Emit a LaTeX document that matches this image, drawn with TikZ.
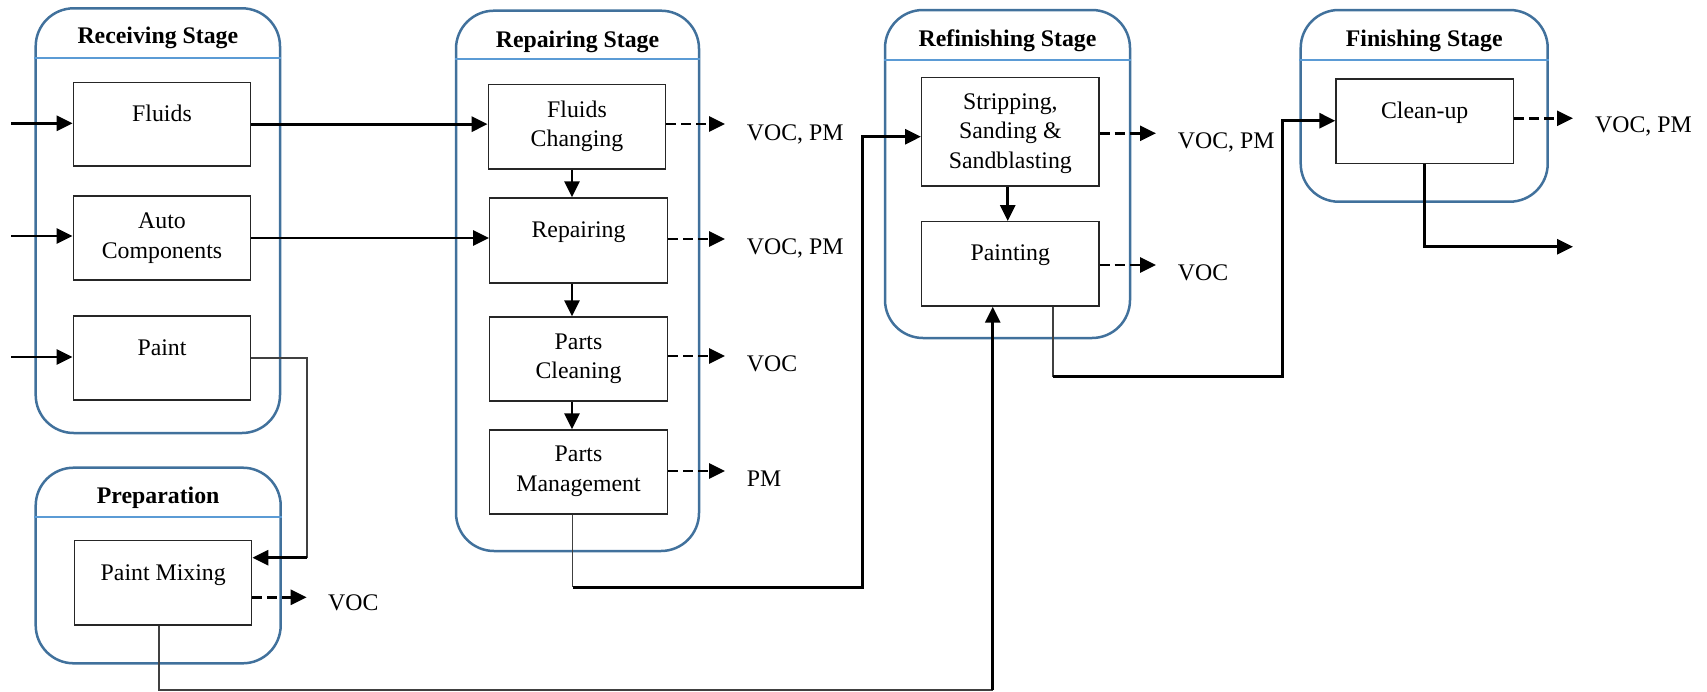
\documentclass[tikz,border=0pt]{standalone}
\usepackage{fontspec}
\setmainfont{Liberation Serif}
\usetikzlibrary{arrows.meta}
\definecolor{stageblue}{HTML}{41719C}
\definecolor{hdrblue}{HTML}{5B9BD5}
\definecolor{thingray}{HTML}{404040}
\begin{document}
\begin{tikzpicture}[x=1pt,y=-1pt,
  stage/.style={draw=stageblue, line width=2.5pt, rounded corners=38pt, rectangle, inner sep=0pt},
  hdrline/.style={draw=hdrblue, line width=2.2pt},
  hdrtext/.style={font=\fontsize{23.8}{29.5}\selectfont\bfseries, anchor=base, inner sep=0pt},
  proc/.style={draw=black!85, line width=1.4pt, rectangle, inner sep=0pt},
  txt/.style={font=\fontsize{23.8}{29.7}\selectfont, anchor=base, inner sep=0pt, align=center},
  lbl/.style={font=\fontsize{23.8}{29.7}\selectfont, anchor=base west, inner sep=0pt},
  thinline/.style={draw=thingray, line width=1.5pt},
  flow/.style={draw=black, line width=2.9pt, -{Triangle[length=16pt,width=15pt]}},
  emis/.style={draw=black, line width=2.7pt, dash pattern=on 10pt off 5pt, -{Triangle[length=16pt,width=15pt]}},
]
\useasboundingbox (0,0) rectangle (1707,691);

% stages
\node[stage, minimum width=244.3pt, minimum height=424.7pt] (recv) at (157.85,220.65) {};
\node[stage, minimum width=245pt, minimum height=195.6pt] (prep) at (158.2,565.5) {};
\node[stage, minimum width=243pt, minimum height=540.3pt] (rpr) at (577.5,280.85) {};
\node[stage, minimum width=245pt, minimum height=328pt] (refn) at (1007.5,174) {};
\node[stage, minimum width=247pt, minimum height=191.7pt] (fin) at (1424.2,105.85) {};

\draw[hdrline] (recv.west |- 0,58.3) -- (recv.east |- 0,58.3);
\draw[hdrline] (prep.west |- 0,516.7) -- (prep.east |- 0,516.7);
\draw[hdrline] (rpr.west |- 0,59) -- (rpr.east |- 0,59);
\draw[hdrline] (refn.west |- 0,60) -- (refn.east |- 0,60);
\draw[hdrline] (fin.west |- 0,60) -- (fin.east |- 0,60);

\node[hdrtext] (recv-h) at (157.85,43.3) {Receiving Stage};
\node[hdrtext] (prep-h) at (158.2,503.3) {Preparation};
\node[hdrtext] (rpr-h) at (577.5,47) {Repairing Stage};
\node[hdrtext] (refn-h) at (1007.5,46.7) {Refinishing Stage};
\node[hdrtext] (fin-h) at (1424.2,46.7) {Finishing Stage};

% process boxes
\node[proc, minimum width=177.4pt, minimum height=83.7pt] (fl) at (162,124.15) {};
\node[proc, minimum width=177.4pt, minimum height=84pt] (ac) at (162,238) {};
\node[proc, minimum width=177.4pt, minimum height=84pt] (pa) at (162,358) {};
\node[proc, minimum width=177pt, minimum height=84.3pt] (pmx) at (163.2,582.85) {};
\node[proc, minimum width=177.4pt, minimum height=84.4pt] (fc) at (577,126.8) {};
\node[proc, minimum width=177.6pt, minimum height=85pt] (rep) at (578.5,240.5) {};
\node[proc, minimum width=177.6pt, minimum height=84pt] (pc) at (578.5,359) {};
\node[proc, minimum width=177.6pt, minimum height=84pt] (pmg) at (578.5,472) {};
\node[proc, minimum width=177.3pt, minimum height=108.7pt] (str) at (1010.35,131.65) {};
\node[proc, minimum width=177.3pt, minimum height=84.3pt] (pnt) at (1010.35,263.85) {};
\node[proc, minimum width=177.3pt, minimum height=84.3pt] (cu) at (1424.65,121.15) {};

% texts (anchor base = baseline of the last line)
\node[txt] (fl-t) at (162,121.7) {Fluids};
\node[txt] (ac-t) at (162,258) {Auto\\Components};
\node[txt] (pa-t) at (162,355) {Paint};
\node[txt] (pmx-t) at (163.2,580) {Paint Mixing};
\node[txt] (fc-t) at (577,146.7) {Fluids\\Changing};
\node[txt] (rep-t) at (578.5,237.5) {Repairing};
\node[txt] (pc-t) at (578.5,378.7) {Parts\\Cleaning};
\node[txt] (pmg-t) at (578.5,491.5) {Parts\\Management};
\node[txt] (str-t) at (1010.35,168.4) {Stripping,\\Sanding \&\\Sandblasting};
\node[txt] (pnt-t) at (1010.35,260.7) {Painting};
\node[txt] (cu-t) at (1424.65,118.3) {Clean-up};

% inputs
\coordinate (in1) at (11,123.3);
\coordinate (in2) at (11,236);
\coordinate (in3) at (11,357);
\draw[flow] (in1) -- (in1 -| fl.west);
\draw[flow] (in2) -- (in2 -| ac.west);
\draw[flow] (in3) -- (in3 -| pa.west);

% receiving -> repairing
\draw[flow] (fl.east) -- (fl.east -| fc.west);
\draw[flow] (ac.east) -- (ac.east -| rep.west);

% repairing chain
\coordinate (rx) at (572,0);
\draw[flow] (rx |- fc.south) -- (rx |- rep.north);
\draw[flow] (rx |- rep.south) -- (rx |- pc.north);
\draw[flow] (rx |- pc.south) -- (rx |- pmg.north);

% refinishing chain
\coordinate (fx) at (1007.7,0);
\draw[flow] (fx |- str.south) -- (fx |- pnt.north);

% paint -> paint mixing
\coordinate (k1) at (307,358);
\coordinate (k2) at (307,557.7);
\draw[thinline] (pa.east) -- (k1) -- (k2);
\draw[flow] (k2) -- (k2 -| pmx.east);

% paint mixing -> painting
\coordinate (k3) at (159,689.8);
\coordinate (k4) at (992.7,689.8);
\draw[thinline] (k3 |- pmx.south) -- (k3) -- (k4);
\draw[flow] (k4) -- (k4 |- pnt.south);

% parts management -> stripping
\coordinate (k5) at (572.7,587.3);
\coordinate (k6) at (862.7,587.3);
\coordinate (k7) at (862.7,136.7);
\draw[thinline] (k5 |- pmg.south) -- (k5);
\draw[flow] (k5) -- (k6) -- (k7) -- (k7 -| str.west);

% painting -> clean-up
\coordinate (k8) at (1053,376.7);
\coordinate (k9) at (1282.3,376.7);
\coordinate (k10) at (1282.3,120.7);
\draw[thinline] (k8 |- pnt.south) -- (k8);
\draw[flow] (k8) -- (k9) -- (k10) -- (k10 -| cu.west);

% clean-up -> out
\coordinate (k11) at (1424.3,246.7);
\coordinate (out) at (1573,246.7);
\draw[flow] (k11 |- cu.south) -- (k11) -- (out);

% emissions
\coordinate (e0) at (306.7,597.3);
\coordinate (e1) at (725,124);
\coordinate (e2) at (725,239);
\coordinate (e3) at (725,356);
\coordinate (e4) at (725,471);
\coordinate (e5) at (1156,133.3);
\coordinate (e6) at (1156,265);
\coordinate (e7) at (1573,118.3);
\draw[emis] (e0 -| pmx.east) -- (e0);
\draw[emis] (e1 -| fc.east) -- (e1);
\draw[emis] (e2 -| rep.east) -- (e2);
\draw[emis] (e3 -| pc.east) -- (e3);
\draw[emis] (e4 -| pmg.east) -- (e4);
\draw[emis] (e5 -| str.east) -- (e5);
\draw[emis] (e6 -| pnt.east) -- (e6);
\draw[emis] (e7 -| cu.east) -- (e7);

\node[lbl] (e0-l) at (328,610) {VOC};
\node[lbl] (e1-l) at (746.7,140) {VOC, PM};
\node[lbl] (e2-l) at (746.7,254) {VOC, PM};
\node[lbl] (e3-l) at (746.7,371) {VOC};
\node[lbl] (e4-l) at (746.7,486) {PM};
\node[lbl] (e5-l) at (1177.7,148) {VOC, PM};
\node[lbl] (e6-l) at (1177.7,280) {VOC};
\node[lbl] (e7-l) at (1595,132) {VOC, PM};
\end{tikzpicture}
\end{document}
